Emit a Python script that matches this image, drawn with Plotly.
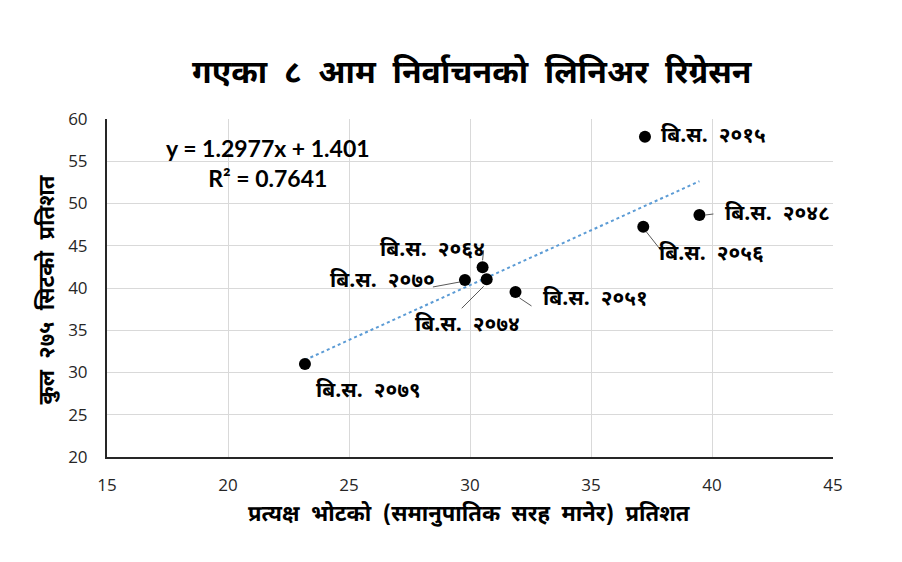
import plotly.graph_objects as go

# ---------------- data ----------------
years = ["२०१५", "२०४८", "२०५१", "२०५६", "२०६४", "२०७०", "२०७४", "२०७९"]
vote_pct = [37.23, 39.48, 31.88, 37.16, 30.52, 29.79, 30.69, 23.18]
seat_pct = [57.90, 48.64, 39.53, 47.25, 42.45, 40.95, 41.03, 31.00]
slope = 1.2977
intercept = 1.401
r_squared = 0.7641
x_ticks = [15, 20, 25, 30, 35, 40, 45]
y_ticks = [20, 25, 30, 35, 40, 45, 50, 55, 60]

title_words = ["गएका", "८", "आम", "निर्वाचनको", "लिनिअर", "रिग्रेसन"]
x_title_words = ["प्रत्यक्ष", "भोटको", "(समानुपातिक", "सरह", "मानेर)", "प्रतिशत"]
y_title_words = ["कुल", "२७५", "सिटको", "प्रतिशत"]
prefix = "बि.स."

# label placement (screen pixel offsets from point: dx right, dy down)
label_offsets = {
    "२०१५": (69, 0),
    "२०४८": (78, 0),
    "२०५१": (80, 8),
    "२०५६": (68, 28),
    "२०६४": (-50, -16),
    "२०७०": (-82, 2),
    "२०७४": (-19, 47),
    "२०७९": (64, 28),
}
# leader segments (screen pixel offsets from point)
leaders = {
    "२०४८": (6, 0, 14, -1),
    "२०५१": (4, 6, 16, 14),
    "२०५६": (3, 5, 18, 24),
    "२०६४": (0, -7, 1, -17),
    "२०७०": (-32, 7, -5, 2),
    "२०७४": (-25, 29, -3, 7),
}

DEV = "Noto Sans Devanagari, Nirmala UI, Mangal, Noto Sans, sans-serif"
NUM = "Open Sans, Noto Sans, sans-serif"
GAP = " \u00a0"


def spaced(words):
    return GAP.join(words)


fig = go.Figure()

x_lo, x_hi = min(vote_pct), max(vote_pct)
fig.add_trace(go.Scatter(
    x=[x_lo, x_hi],
    y=[slope * x_lo + intercept, slope * x_hi + intercept],
    mode="lines",
    line=dict(color="#5b9bd5", width=2, dash="dot"),
    hoverinfo="skip", showlegend=False,
))
fig.add_trace(go.Scatter(
    x=vote_pct, y=seat_pct, mode="markers",
    marker=dict(color="black", size=12),
    showlegend=False,
))

for yr, xv, yv in zip(years, vote_pct, seat_pct):
    dx, dy = label_offsets[yr]
    fig.add_annotation(
        x=xv, y=yv, xref="x", yref="y",
        text=f"<b>{prefix}{GAP}{yr}</b>",
        showarrow=False, xshift=dx, yshift=-dy,
        xanchor="center", yanchor="middle",
        font=dict(family=DEV, size=21, color="black"),
    )
    if yr in leaders:
        lx0, ly0, lx1, ly1 = leaders[yr]
        fig.add_shape(
            type="line", xref="x", yref="y",
            xsizemode="pixel", ysizemode="pixel",
            xanchor=xv, yanchor=yv,
            x0=lx0, x1=lx1, y0=-ly0, y1=-ly1,
            line=dict(color="#595959", width=1),
        )

# equation text
fig.add_annotation(
    x=0.222, y=0.869, xref="paper", yref="paper",
    xanchor="center", yanchor="middle",
    text=f"<b>y = {slope}x + {intercept}<br>R² = {r_squared}</b>",
    showarrow=False, align="center",
    font=dict(family="Lato, Open Sans, sans-serif", size=23, color="black"),
)

# axis titles
fig.add_annotation(
    x=-0.080, y=0.495, xref="paper", yref="paper",
    xanchor="center", yanchor="middle",
    text=f"<b>{spaced(y_title_words)}</b>", textangle=-90, showarrow=False,
    font=dict(family=DEV, size=22, color="black"),
)
fig.add_annotation(
    x=0.498, y=-0.172, xref="paper", yref="paper",
    xanchor="center", yanchor="middle",
    text=f"<b>{spaced(x_title_words)}</b>", showarrow=False,
    font=dict(family=DEV, size=22, color="black"),
)

fig.update_layout(
    width=902, height=562,
    margin=dict(l=107, r=69, t=119, b=105),
    paper_bgcolor="white", plot_bgcolor="white",
    title=dict(text=f"<b>{spaced(title_words)}</b>", x=0.523, xanchor="center",
               y=0.872, yanchor="middle",
               font=dict(family=DEV, size=32, color="black")),
    xaxis=dict(range=[15, 45], tickvals=x_ticks, showgrid=True,
               gridcolor="#d9d9d9", gridwidth=1, zeroline=False,
               showline=True, linecolor="#262626", linewidth=2,
               ticks="", ticklabelstandoff=12,
               tickfont=dict(family=NUM, size=17, color="#262626")),
    yaxis=dict(range=[20, 60], tickvals=y_ticks, showgrid=True,
               gridcolor="#d9d9d9", gridwidth=1, zeroline=False,
               showline=True, linecolor="#262626", linewidth=2,
               ticks="", ticklabelstandoff=14,
               tickfont=dict(family=NUM, size=17, color="#262626")),
    showlegend=False,
)

fig.write_html("out.html")
